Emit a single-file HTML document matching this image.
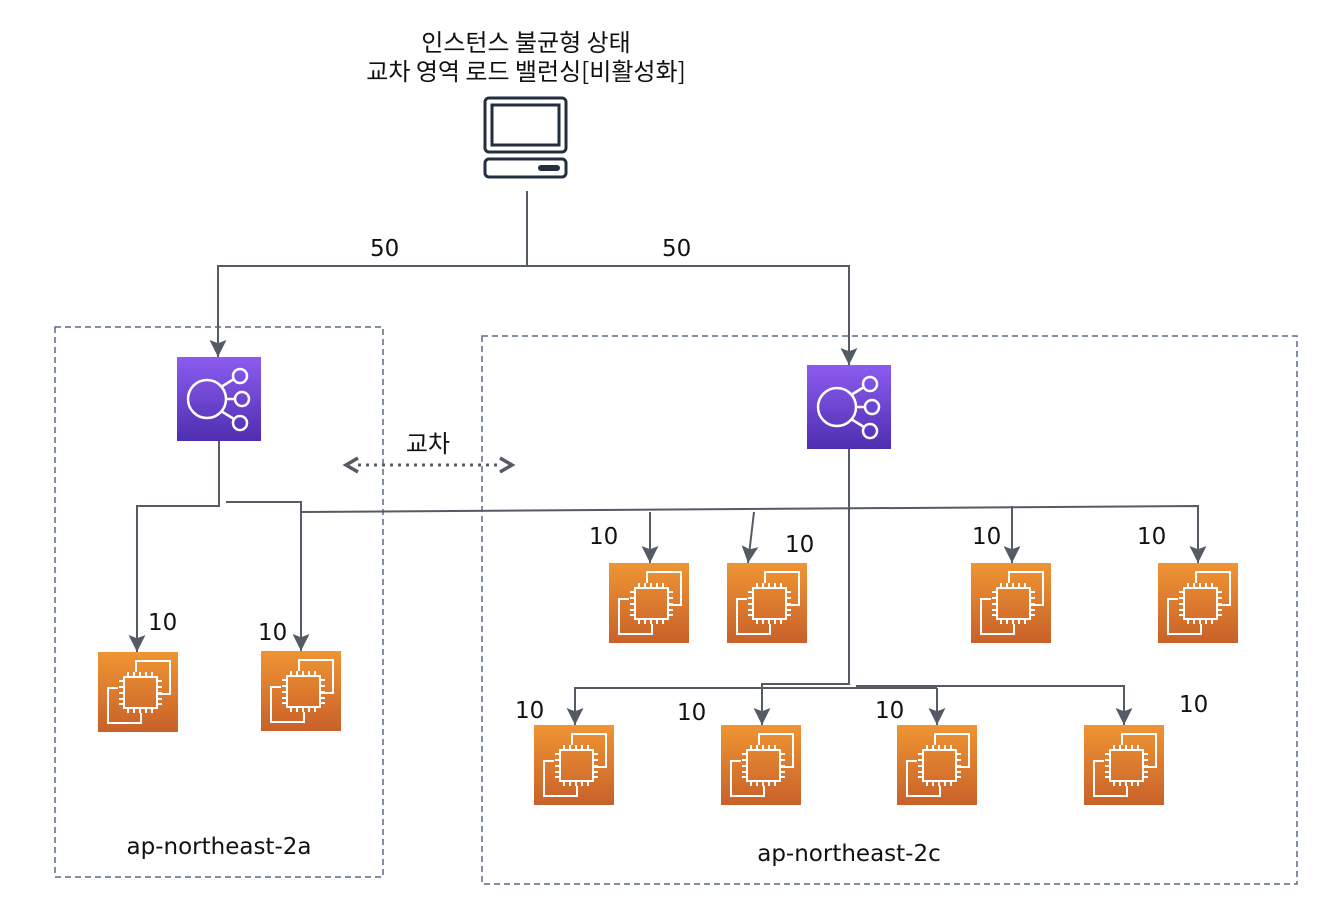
<!DOCTYPE html>
<html><head><meta charset="utf-8"><style>
body{margin:0;background:#fff}
svg{display:block}
text{font-family:"DejaVu Sans","Noto Sans CJK KR",sans-serif;fill:#111}
.k{font-family:"Noto Sans CJK KR",sans-serif}
</style></head><body>
<svg width="1334" height="916" viewBox="0 0 1334 916" xmlns="http://www.w3.org/2000/svg">
<defs>
<linearGradient id="po" x1="0" y1="0" x2="0" y2="1"><stop offset="0" stop-color="#8c5cf0"/><stop offset="1" stop-color="#4f2eb0"/></linearGradient>
<linearGradient id="or" x1="0" y1="0" x2="0" y2="1"><stop offset="0" stop-color="#ef9534"/><stop offset="1" stop-color="#c8612a"/></linearGradient>
<marker id="ar" markerWidth="18" markerHeight="18" refX="16" refY="8" orient="auto" markerUnits="userSpaceOnUse" viewBox="0 0 17 16"><path d="M0,0 L16,8 L0,16 L3,8z" fill="#545b64"/></marker>
<g id="ec2">
<rect width="80" height="80" fill="url(#or)"/>
<g fill="none" stroke="#fff" stroke-width="2">
<path d="M38,20 V9 H72 V42 H60"/>
<path d="M20,36 H10 V71 H43 V61"/>
<rect x="26" y="25" width="33" height="31"/>
<path d="M30,25v-5M36,25v-5M42,25v-5M48,25v-5M54,25v-5M30,56v5M36,56v5M42,56v5M48,56v5M54,56v5M26,29h-5M26,35h-5M26,41h-5M26,47h-5M26,52h-5M59,29h5M59,35h5M59,41h5M59,47h5M59,52h5"/>
</g></g>
<g id="elb">
<rect width="84" height="84" fill="url(#po)"/>
<g fill="none" stroke="#fff" stroke-width="2.5">
<circle cx="30" cy="42" r="19"/>
<circle cx="63" cy="19" r="7"/><circle cx="65" cy="42" r="7"/><circle cx="63" cy="66" r="7"/>
<path d="M44,30 L57,22 M49,42 H58 M44,54 L57,62"/>
</g></g>
</defs>
<g fill="none" stroke="#5a6b86" stroke-width="1.5" stroke-dasharray="6,4">
<rect x="55" y="327" width="328" height="550"/>
<rect x="482" y="336" width="815" height="548"/>
</g>
<text class="k" x="526" y="51" font-size="24" text-anchor="middle">인스턴스 불균형 상태</text>
<text class="k" x="526" y="80" font-size="24" text-anchor="middle">교차 영역 로드 밸런싱[비활성화]</text>
<g fill="none" stroke="#232f3e" stroke-width="3">
<rect x="485" y="98" width="81" height="54" rx="4"/>
<rect x="492" y="105" width="67" height="40"/>
<rect x="485" y="159" width="81" height="18" rx="4"/>
</g>
<rect x="538" y="165" width="22" height="6" rx="3" fill="#232f3e"/>
<g fill="none" stroke="#545b64" stroke-width="2">
<path d="M527,191 V266 H218 V357" marker-end="url(#ar)"/>
<path d="M527,266 H849 V365" marker-end="url(#ar)"/>
<path d="M219,441 V506 H137 V652" marker-end="url(#ar)"/>
<path d="M226,502 H301 V651" marker-end="url(#ar)"/>
<path d="M301,512 L1198,506 V563" marker-end="url(#ar)"/>
<path d="M650,512 V563" marker-end="url(#ar)"/>
<path d="M754,512 L748,563" marker-end="url(#ar)"/>
<path d="M1012,506 V563" marker-end="url(#ar)"/>
<path d="M849,449 V684 H762 V725" marker-end="url(#ar)"/>
<path d="M937,688 H575 V725" marker-end="url(#ar)"/>
<path d="M937,688 V725" marker-end="url(#ar)"/>
<path d="M856,686 H1124 V725" marker-end="url(#ar)"/>
</g>
<path d="M358,465 H502" stroke="#545b64" stroke-width="3" stroke-dasharray="3,5" fill="none"/>
<path d="M358,458 L346,465 L358,472 M500,458 L512,465 L500,472" stroke="#545b64" stroke-width="3.5" fill="none"/>
<text class="k" x="428" y="452" font-size="24" text-anchor="middle">교차</text>
<use href="#elb" x="177" y="357"/>
<use href="#elb" x="807" y="365"/>
<use href="#ec2" x="98" y="652"/>
<use href="#ec2" x="261" y="651"/>
<use href="#ec2" x="609" y="563"/>
<use href="#ec2" x="727" y="563"/>
<use href="#ec2" x="971" y="563"/>
<use href="#ec2" x="1158" y="563"/>
<use href="#ec2" x="534" y="725"/>
<use href="#ec2" x="721" y="725"/>
<use href="#ec2" x="897" y="725"/>
<use href="#ec2" x="1084" y="725"/>
<g font-size="23">
<text x="370" y="256">50</text>
<text x="662" y="256">50</text>
<text x="148" y="630">10</text>
<text x="258" y="640">10</text>
<text x="589" y="544">10</text>
<text x="785" y="552">10</text>
<text x="972" y="544">10</text>
<text x="1137" y="544">10</text>
<text x="515" y="718">10</text>
<text x="677" y="720">10</text>
<text x="875" y="718">10</text>
<text x="1179" y="712">10</text>
<text x="219" y="854" text-anchor="middle">ap-northeast-2a</text>
<text x="849" y="861" text-anchor="middle">ap-northeast-2c</text>
</g>
</svg>
</body></html>
